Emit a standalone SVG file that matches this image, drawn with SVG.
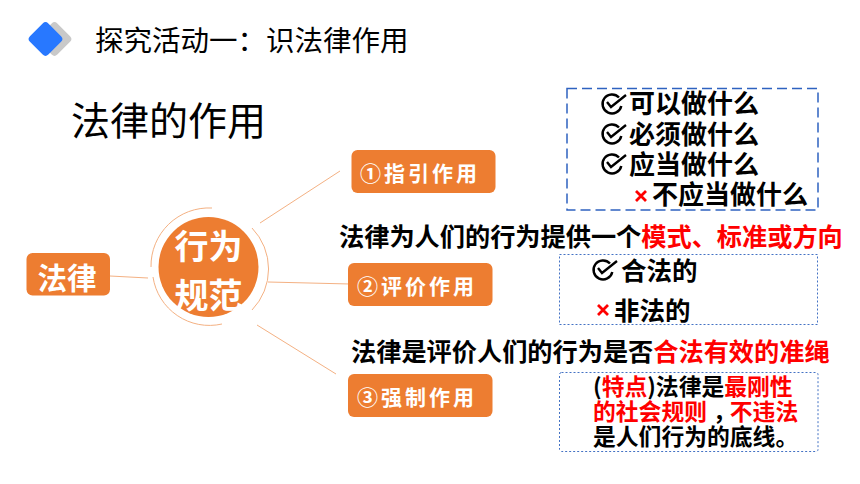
<svg xmlns="http://www.w3.org/2000/svg" width="860" height="484" viewBox="0 0 860 484">
<style>
text{font-family:"Noto Sans CJK SC","Noto Sans",sans-serif;font-weight:700;fill:#000}
.w{fill:#fff}
.r{fill:#f00}
.l{font-size:26px}
.m{font-size:25.500px}
.box{fill:#ed7d31}
.c{fill:none;stroke:#f4b183;stroke-width:1}
.chk{fill:none;stroke:#000;stroke-width:2.400}
.x{stroke:#f00;stroke-width:2.800;fill:none}
.b{font-size:22.800px}
.btn{font-size:21px;letter-spacing:3px}
.s{font-size:25.200px}
</style>
<defs>
<g id="check"><path d="M7 -6.500 A9.500 9.500 0 1 0 9.300 2" class="chk"/><path d="M-5 -2 L-1 3 L14 -9" class="chk"/></g>
<g id="cross"><path d="M-5 -5 L5 5 M5 -5 L-5 5" class="x"/></g>
</defs>
<rect width="860" height="484" fill="#fff"/>
<g id="header">
<rect x="41.500" y="26" width="26" height="26" rx="4" fill="#c9c9c9" transform="rotate(45 54.500 39)"/>
<rect x="32.500" y="26" width="26" height="26" rx="4" fill="#2878ff" transform="rotate(45 45.500 39)"/>
<text x="95" y="51" font-size="28.500" style="font-weight:400">探究活动一：识法律作用</text>
</g>
<text id="title" x="71" y="135" font-size="39" style="font-weight:400">法律的作用</text>
<g id="connectors">
<path class="c" d="M110 276 L148 278"/>
<path class="c" d="M260 223 L340 171"/>
<path class="c" d="M268 282 L350 284"/>
<path class="c" d="M257 325 L336 374"/>
</g>
<g id="node-law"><rect x="26.500" y="253" width="83.500" height="42.500" rx="6" class="box"/><text x="67" y="289" text-anchor="middle" font-size="29.500" class="w">法律</text></g>
<g id="node-center">
<circle cx="208.500" cy="267" r="50" class="box"/>
<path d="M151 267 A58 58 0 0 1 212 208 M252 228 A59 59 0 0 1 252 310 M153 277 A57 57 0 0 0 222 324" fill="none" stroke="#f4b183" stroke-width="1"/>
<text x="208.500" y="259" text-anchor="middle" font-size="34" class="w">行为</text>
<text x="208.500" y="308" text-anchor="middle" font-size="34" class="w">规范</text>
</g>
<g id="node-1"><rect x="351.500" y="150" width="144" height="43" rx="6" class="box"/><text x="360" y="181" class="w btn">①指引作用</text></g>
<g id="node-2"><rect x="348" y="263" width="144.500" height="43" rx="6" class="box"/><text x="357" y="294" class="w btn">②评价作用</text></g>
<g id="node-3"><rect x="348" y="374" width="144.500" height="43" rx="6" class="box"/><text x="357" y="405" class="w btn">③强制作用</text></g>
<g id="box-1">
<rect x="567" y="88.500" width="251" height="121.500" fill="none" stroke="#2e62c0" stroke-width="1.500" stroke-dasharray="10 5"/>
<use href="#check" x="612" y="104"/><text x="629" y="113" class="l">可以做什么</text>
<use href="#check" x="612" y="134"/><text x="629" y="144" class="l">必须做什么</text>
<use href="#check" x="612" y="164"/><text x="629" y="174" class="l">应当做什么</text>
<use href="#cross" x="641" y="196"/><text x="652" y="204" class="l">不应当做什么</text>
</g>
<text id="sentence-1" x="339" y="246" class="s">法律为人们的行为提供一个<tspan class="r">模式、标准或方向</tspan></text>
<g id="box-2">
<rect x="559.500" y="254.500" width="258" height="70" fill="none" stroke="#4472c4" stroke-width="1" stroke-dasharray="2 2"/>
<use href="#check" x="603" y="270"/><text x="621" y="280" class="m">合法的</text>
<use href="#cross" x="603" y="310"/><text x="614" y="320" class="m">非法的</text>
</g>
<text id="sentence-2" x="351" y="361" class="s">法律是评价人们的行为是否<tspan class="r">合法有效的准绳</tspan></text>
<g id="box-3">
<rect x="559.500" y="372.500" width="258.500" height="79" rx="2" fill="none" stroke="#4472c4" stroke-width="1" stroke-dasharray="2 2"/>
<text x="593" y="395" class="b">(<tspan class="r">特点</tspan>)法律是<tspan class="r">最刚性</tspan></text>
<text x="593" y="420" class="b r">的社会规则<tspan fill="#000" dx="6">，</tspan><tspan dx="-6">不违法</tspan></text>
<text x="593" y="445" class="b">是人们行为的底线。</text>
</g>
</svg>
